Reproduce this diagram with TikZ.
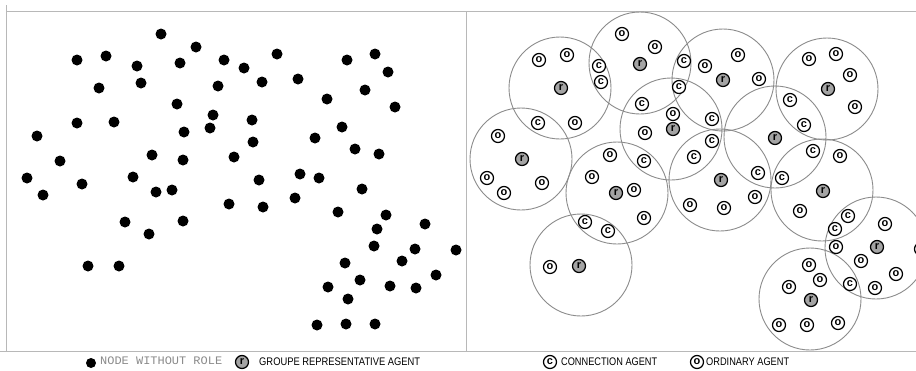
\documentclass[tikz,border=0pt]{standalone}
\usepackage{fontspec}
\usepackage{graphicx}
\newfontfamily\agfont{Liberation Sans}
\newfontfamily\legmono{Liberation Mono}
\definecolor{framegray}{HTML}{B8B8B8}
\definecolor{ringgray}{HTML}{8C8C8C}
\definecolor{repgray}{HTML}{A4A4A4}
\definecolor{legtext}{HTML}{8A8A8A}
\tikzset{
  dotnode/.style={circle, fill=black, minimum size=11pt, inner sep=0pt},
  group/.style={circle, draw=ringgray, line width=0.9pt, minimum size=102pt, inner sep=0pt},
  agent/.style={circle, draw=black, line width=1.25pt, fill=white, minimum size=13pt, inner sep=0pt,
    font=\fontsize{11}{11}\selectfont\agfont\bfseries},
  repagent/.style={agent, fill=repgray},
  legendtxt/.style={anchor=west, inner sep=0pt, font=\fontsize{11}{11}\selectfont\agfont},
  frameline/.style={draw=framegray, line width=0.8pt}
}
\begin{document}
\begin{tikzpicture}[x=1pt, y=-1pt]
\useasboundingbox (0,0) rectangle (916,370);
\fill[white] (0,0) rectangle (916,370);
% frame
\coordinate (tl) at (6,5);
\coordinate (tlc) at (6,11);
\coordinate (tr) at (916,11);
\coordinate (bl) at (6,351);
\coordinate (br) at (916,351);
\coordinate (dt) at (466,11);
\coordinate (db) at (466,351);
\draw[frameline] (tl) -- (bl);
\draw[frameline] (tlc) -- (tr);
\draw[frameline] (0,351) -- (br);
\draw[frameline] (dt) -- (db);
% left panel: nodes without role
\foreach \x/\y [count=\i] in {
161/34,196/47,77/60,106/56,137/66,180/63,224/60,99/88,141/83,218/86,
177/104,213/115,210/128,77/123,114/122,184/132,37/136,60/161,152/155,183/160,
234/157,27/178,133/177,244/68,277/54,262/82,298/79,347/60,375/54,388/72,
365/90,327/99,395/107,252/120,253/142,342/127,315/138,355/149,379/154,259/180,
300/174,319/178,43/195,82/184,156/192,172/190,229/204,125/222,149/234,183/221,
88/266,119/266,362/189,263/207,295/198,338/212,386/215,425/224,377/229,374/246,
415/249,456/250,402/261,345/263,436/275,360/280,328/287,390/286,416/288,348/299,
317/325,346/324,375/324}
  \node[dotnode] (d\i) at (\x,\y) {};
% right panel: groups
\foreach \n/\x/\y in {A/560/88, B/521/159, C/581/265, D/617/193, E/640/63, F/671/129,
  G/723/80, H/720/180, I/775/137, J/827/89, K/822/190, L/876/248, M/810/299}
  \node[group] (g\n) at (\x,\y) {};
% ordinary agents
\foreach \x/\y [count=\i] in {
539/60,567/55,575/123,498/136,487/178,504/193,542/183,550/267,610/155,592/177,
634/190,644/218,622/34,655/47,673/114,645/133,690/205,724/208,755/197,705/66,
738/55,759/79,809/59,836/54,850/75,855/107,840/156,800/211,836/247,885/224,
861/261,896/274,875/288,809/265,820/280,789/287,779/325,807/325,838/323}
  \node[agent] (o\i) at (\x,\y) {o};
% partly visible ordinary agent at the right edge
\node[agent] (oedge) at (921,249) {o};
% connection agents
\foreach \x/\y [count=\i] in {
538/123,599/66,601/82,585/222,608/231,644/161,684/61,679/87,642/104,712/119,
712/141,694/157,758/173,782/178,790/100,804/125,813/151,848/216,835/229,850/284}
  \node[agent] (c\i) at (\x,\y) {c};
% group representative agents
\foreach \x/\y [count=\i] in {
561/88,522/159,579/266,616/193,640/64,673/129,723/80,721/180,775/138,828/89,
823/191,877/247,811/300}
  \node[repagent] (r\i) at (\x,\y) {r};
% legend
\node[dotnode, minimum size=10pt] (legdot) at (91,363) {};
\node[anchor=west, inner sep=0pt, text=legtext, font=\fontsize{11.5}{11.5}\selectfont\legmono] (legdottxt) at (100,361) {\resizebox{122pt}{\height}{NODE WITHOUT ROLE}};
\node[repagent] (legr) at (242,362) {r};
\node[legendtxt] (legrtxt) at (259,362) {\resizebox{161pt}{\height}{GROUPE REPRESENTATIVE AGENT}};
\node[agent] (legc) at (550,362) {c};
\node[legendtxt] (legctxt) at (561,362) {\resizebox{96pt}{\height}{CONNECTION AGENT}};
\node[agent] (lego) at (697,362) {o};
\node[legendtxt] (legotxt) at (706,362) {\resizebox{83pt}{\height}{ORDINARY AGENT}};
\end{tikzpicture}
\end{document}
